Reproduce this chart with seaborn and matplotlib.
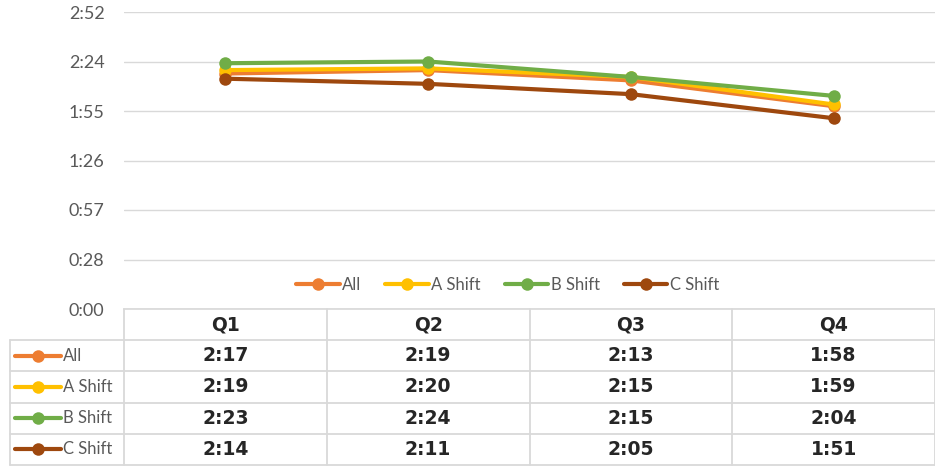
import matplotlib
matplotlib.use("Agg")
import matplotlib.pyplot as plt
from matplotlib.ticker import FuncFormatter, MultipleLocator
import numpy as np
import pandas as pd
import seaborn as sns

quarters = ["Q1", "Q2", "Q3", "Q4"]
series_names = ["All", "A Shift", "B Shift", "C Shift"]
# values in seconds (m:ss)
all_secs = [137, 139, 133, 118]
a_secs = [139, 140, 135, 119]
b_secs = [143, 144, 135, 124]
c_secs = [134, 131, 125, 111]
colors = ["#ED7D31", "#FFC000", "#70AD47", "#9E480E"]

sns.set_theme(style="white")
plt.rcParams["font.family"] = ["Lato", "DejaVu Sans"]

df = pd.DataFrame({
    "quarter": quarters * 4,
    "series": [s for s in series_names for _ in quarters],
    "secs": all_secs + a_secs + b_secs + c_secs,
})
df["x"] = df["quarter"].map({q: i for i, q in enumerate(quarters)})

W, H = 935, 467
fig = plt.figure(figsize=(W / 100, H / 100), dpi=100)

left_px, top_px, axis_px, bottom_px, label_px = 124, 12, 309, 465, 10
ax = fig.add_axes([left_px / W, (H - axis_px) / H, 1 - left_px / W, (axis_px - top_px) / H])

sns.lineplot(data=df, x="x", y="secs", hue="series", hue_order=series_names,
             palette=colors, marker="o", markersize=9, markeredgewidth=0,
             linewidth=3, ax=ax, legend=True)

ax.set_xlim(-0.5, len(quarters) - 0.5)
ax.set_ylim(0, 172.8)
ax.yaxis.set_major_locator(MultipleLocator(28.8))
ax.yaxis.set_major_formatter(FuncFormatter(lambda v, p: f"{int(v + 1e-6) // 60}:{int(v + 1e-6) % 60:02d}"))
ax.grid(axis="y", color="#D9D9D9", linewidth=1)
ax.set_xticks([])
ax.set_xlabel("")
ax.set_ylabel("")
for s in ["top", "right", "left"]:
    ax.spines[s].set_visible(False)
ax.spines["bottom"].set_color("#D9D9D9")
ax.tick_params(axis="y", length=0, labelsize=13, labelcolor="#595959", pad=14)

leg = ax.legend(loc="lower center", bbox_to_anchor=(0.473, 0.005), ncol=4, frameon=False,
                fontsize=12, handlelength=2.6, columnspacing=1.45, handletextpad=0.15)
for t in leg.get_texts():
    t.set_color("#595959")

# data table
col_w = (W - left_px) / len(quarters)
lab_units = (left_px - label_px) / col_w
tax = fig.add_axes([label_px / W, (H - bottom_px) / H, (W - label_px) / W, (bottom_px - axis_px) / H])
tax.set_xlim(-0.5 - lab_units, len(quarters) - 0.5)
nrows = len(series_names) + 1
tax.set_ylim(nrows, 0)
tax.axis("off")
gc = "#D9D9D9"
for r in range(1, nrows + 1):
    tax.plot([-0.5 - lab_units, len(quarters) - 0.5], [r, r], color=gc, lw=1.3, clip_on=False)
tax.plot([-0.5 - lab_units] * 2, [1, nrows], color=gc, lw=1.3, clip_on=False)
for c in range(len(quarters) + 1):
    tax.plot([c - 0.5] * 2, [0, nrows], color=gc, lw=1.3, clip_on=False)

for i, q in enumerate(quarters):
    tax.text(i, 0.5, q, ha="center", va="center", fontsize=13.5, fontweight="bold",
             color="#262626", family="DejaVu Sans")

table_vals = [all_secs, a_secs, b_secs, c_secs]
for r, (name, vals, col) in enumerate(zip(series_names, table_vals, colors), start=1):
    x0 = -0.5 - lab_units + 0.045 * lab_units
    x1 = x0 + 0.4 * lab_units
    tax.plot([x0, x1], [r + 0.5, r + 0.5], color=col, lw=3, solid_capstyle="round")
    tax.plot([(x0 + x1) / 2], [r + 0.5], "o", color=col, ms=9, mew=0)
    tax.text(x1 + 0.02 * lab_units, r + 0.5, name, ha="left", va="center", fontsize=12, color="#595959")
    for i, v in enumerate(vals):
        tax.text(i, r + 0.5, f"{v // 60}:{v % 60:02d}", ha="center", va="center", fontsize=13.5,
                 fontweight="bold", color="#262626", family="DejaVu Sans")

fig.savefig("out.png", dpi=100)
